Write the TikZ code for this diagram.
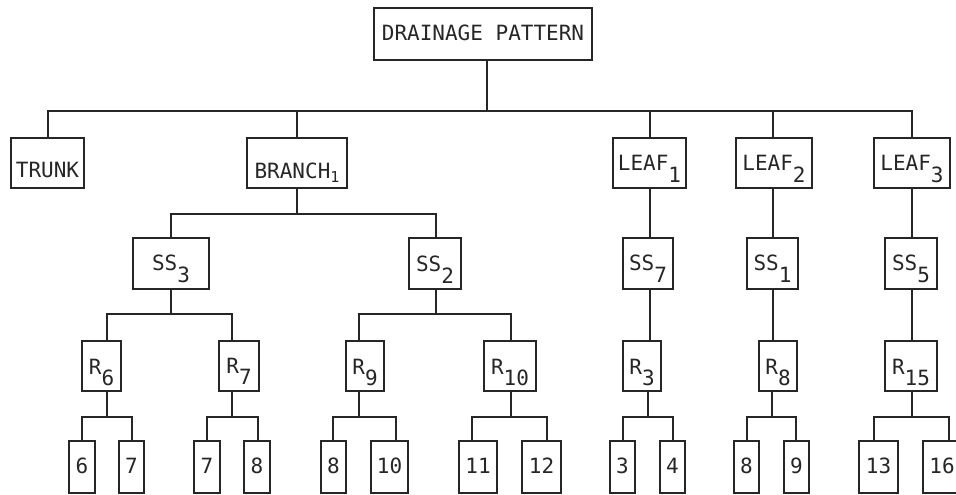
\documentclass[tikz,border=0pt]{standalone}
\usepackage{fontspec}
\newfontfamily\mainfnt{DejaVu Sans Mono}
\newcommand\sbs[1]{\raisebox{-12pt}{#1}}
\newcommand\sbr[1]{\raisebox{-11.5pt}{#1}}
\newcommand\bx[7]{\node[box,minimum width=#4pt,minimum height=#5pt,text height=#6pt,text depth=0pt] (#1) at (#2,#3) {#7};}
\newcommand\tedge[5]{%
  \coordinate (tmpA) at ([xshift=#2pt]#1.south);
  \coordinate (tmpB) at ([xshift=#5pt]#4.north);
  \draw[conn] (tmpA) -- (tmpA |- #3) -| (tmpB);}
\tikzset{
  box/.style={draw=black!85, line width=1.5pt, rectangle, inner sep=0pt, text=black!85,
    font=\mainfnt\fontsize{21}{21}\selectfont},
  conn/.style={draw=black!85, line width=1.6pt}
}
\begin{document}
\begin{tikzpicture}[x=1pt,y=-1pt]
\useasboundingbox (0,0) rectangle (956,495);
\clip (0,0) rectangle (956,495);
\coordinate (bus0) at (0,111);
\coordinate (bus1) at (0,214);
\coordinate (bus2) at (0,314);
\coordinate (bus3) at (0,417);
% level 0
\bx{root}{483}{34}{218}{52}{13.4}{DRAINAGE PATTERN}
% level 1
\bx{trunk}{47.5}{163}{73}{50}{28}{TRUNK}
\bx{branch}{297}{163}{100}{50}{31}{BRANCH\raisebox{-3.5pt}{\fontsize{15}{15}\selectfont 1}}
\bx{leafa}{649.5}{163}{73}{50}{14}{LEAF\sbs{1}}
\bx{leafb}{774}{163}{76}{50}{14}{LEAF\sbs{2}}
\bx{leafc}{912}{163}{76}{50}{14}{LEAF\sbs{3}}
% level 2
\bx{ssc}{171}{263.5}{76}{51}{14}{SS\sbs{3}}
\bx{ssb}{435}{263.5}{52}{51}{15}{SS\sbs{2}}
\bx{ssg}{648}{263.5}{50}{51}{14}{SS\sbs{7}}
\bx{ssa}{772.5}{263.5}{51}{51}{14}{SS\sbs{1}}
\bx{sse}{911}{263.5}{52}{51}{14}{SS\sbs{5}}
% level 3
\bx{rf}{101.5}{366}{39}{50}{16}{R\sbr{6}}
\bx{rg}{239}{366}{40}{50}{14}{R\sbr{7}}
\bx{ri}{365}{366}{38}{50}{16}{R\sbr{9}}
\bx{rj}{510}{366}{52}{50}{16}{R\sbr{10}}
\bx{rc}{642}{366}{38}{50}{16}{R\sbr{3}}
\bx{rh}{778}{366}{38}{50}{16}{R\sbr{8}}
\bx{ro}{911}{366}{52}{50}{16}{R\sbr{15}}
% level 4
\bx{la}{82}{467}{26}{52}{12.6}{6}
\bx{lb}{131.5}{467}{25}{52}{12.6}{7}
\bx{lc}{207}{467}{26}{52}{12.6}{7}
\bx{ld}{257}{467}{26}{52}{12.6}{8}
\bx{le}{333.5}{467}{25}{52}{12.6}{8}
\bx{lf}{389.5}{467}{37}{52}{12.6}{10}
\bx{lg}{478}{467}{38}{52}{12.6}{11}
\bx{lh}{541.5}{467}{39}{52}{12.6}{12}
\bx{li}{622.5}{467}{25}{52}{12.6}{3}
\bx{lj}{672.5}{467}{25}{52}{12.6}{4}
\bx{lk}{746.5}{467}{25}{52}{12.6}{8}
\bx{ll}{796.5}{467}{25}{52}{12.6}{9}
\bx{lm}{878.5}{467}{39}{52}{12.6}{13}
\bx{ln}{942}{467}{38}{52}{12.6}{16}
% connectors level 0 -> 1
\tedge{root}{4}{bus0}{trunk}{0.5}
\tedge{root}{4}{bus0}{branch}{0}
\tedge{root}{4}{bus0}{leafa}{0.5}
\tedge{root}{4}{bus0}{leafb}{-1}
\tedge{root}{4}{bus0}{leafc}{0}
% level 1 -> 2
\tedge{branch}{0}{bus1}{ssc}{0}
\tedge{branch}{0}{bus1}{ssb}{1}
\draw[conn] ([xshift=0.5pt]leafa.south) -- ([xshift=2pt]ssg.north);
\draw[conn] ([xshift=-1pt]leafb.south) -- ([xshift=0.5pt]ssa.north);
\draw[conn] (leafc.south) -- ([xshift=1pt]sse.north);
% level 2 -> 3
\tedge{ssc}{0}{bus2}{rf}{5.5}
\tedge{ssc}{0}{bus2}{rg}{-7}
\tedge{ssb}{1}{bus2}{ri}{-6}
\tedge{ssb}{1}{bus2}{rj}{1}
\draw[conn] ([xshift=2pt]ssg.south) -- ([xshift=8pt]rc.north);
\draw[conn] ([xshift=0.5pt]ssa.south) -- ([xshift=-5pt]rh.north);
\draw[conn] ([xshift=1pt]sse.south) -- ([xshift=1pt]ro.north);
% level 3 -> 4
\tedge{rf}{5.5}{bus3}{la}{0}
\tedge{rf}{5.5}{bus3}{lb}{0.5}
\tedge{rg}{-7}{bus3}{lc}{0}
\tedge{rg}{-7}{bus3}{ld}{1}
\tedge{ri}{-6}{bus3}{le}{-0.5}
\tedge{ri}{-6}{bus3}{lf}{6.5}
\tedge{rj}{1}{bus3}{lg}{-6}
\tedge{rj}{1}{bus3}{lh}{5.5}
\tedge{rc}{6}{bus3}{li}{0.5}
\tedge{rc}{6}{bus3}{lj}{0.5}
\tedge{rh}{-6}{bus3}{lk}{0.5}
\tedge{rh}{-6}{bus3}{ll}{-0.5}
\tedge{ro}{1}{bus3}{lm}{-4.5}
\tedge{ro}{1}{bus3}{ln}{7}
\end{tikzpicture}
\end{document}
